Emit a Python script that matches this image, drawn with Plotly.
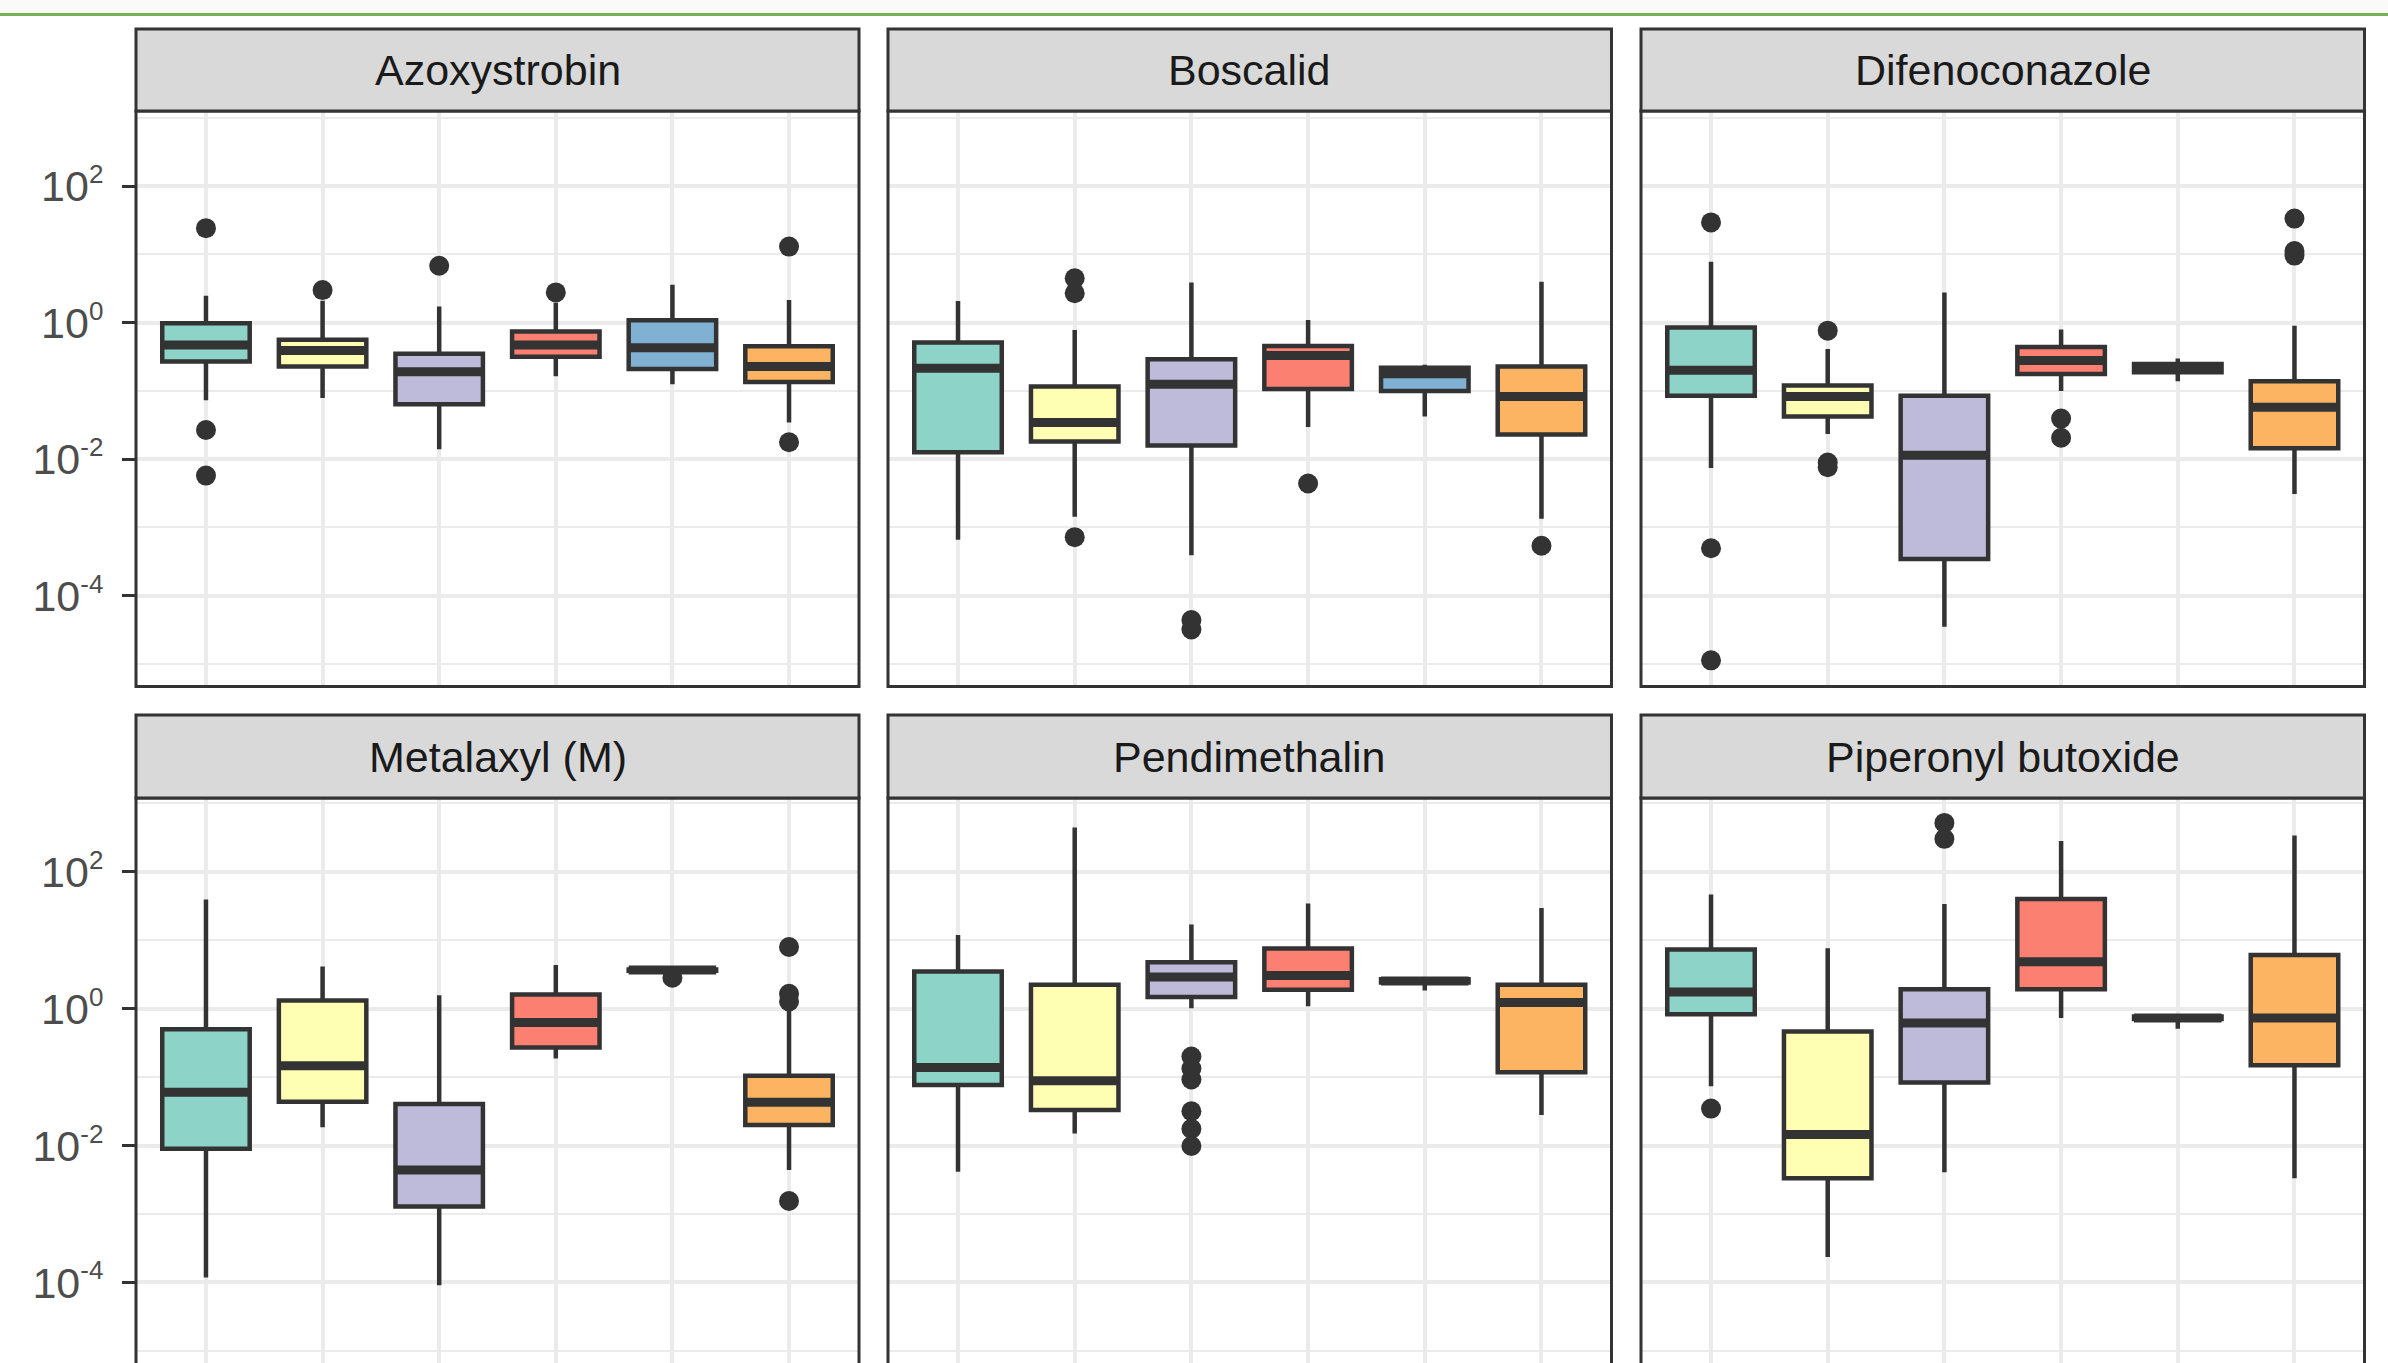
import plotly.graph_objects as go

# ---------------- data ----------------
COMPOUNDS = ["Azoxystrobin", "Boscalid", "Difenoconazole",
             "Metalaxyl (M)", "Pendimethalin", "Piperonyl butoxide"]
GROUP_COLORS = ["#8DD3C7", "#FFFFB3", "#BEBADA", "#FB8072", "#80B1D3", "#FDB462"]

Y_TICK_VALS = [1e-4, 1e-2, 1, 1e2]
Y_TICK_EXPONENTS = ["-4", "-2", "0", "2"]
Y_MINOR_VALS = [1e-5, 1e-3, 1e-1, 1e1, 1e3]

LOWER_WHISKER = [
    [0.073, 0.079, 0.014, 0.164, 0.125, 0.0345],
    [0.00066, 0.00143, 0.00039, 0.0295, 0.042, 0.00134],
    [0.00743, 0.0234, 3.5e-5, 0.1, 0.139, 0.0031],
    [0.000118, 0.0186, 9.1e-5, 0.188, 3.6, 0.0044],
    [0.00416, 0.015, 1.02, 1.09, 1.85, 0.028],
    [0.0738, 0.000235, 0.00407, 0.736, 0.51, 0.00333],
]
Q1 = [
    [0.27, 0.227, 0.064, 0.316, 0.21, 0.135],
    [0.0126, 0.0181, 0.0159, 0.107, 0.1, 0.0229],
    [0.085, 0.042, 0.000345, 0.177, 0.187, 0.0145],
    [0.00904, 0.0439, 0.00129, 0.272, 3.6, 0.02],
    [0.077, 0.0333, 1.48, 1.9, 2.43, 0.1186],
    [0.83, 0.00333, 0.0834, 1.93, 0.71, 0.149],
]
MEDIAN = [
    [0.47, 0.39, 0.19, 0.47, 0.43, 0.227],
    [0.215, 0.0345, 0.125, 0.33, 0.178, 0.083],
    [0.2, 0.083, 0.0114, 0.279, 0.215, 0.0578],
    [0.0605, 0.147, 0.0044, 0.63, 3.68, 0.0432],
    [0.139, 0.089, 2.92, 3.07, 2.55, 1.23],
    [1.76, 0.0145, 0.622, 4.85, 0.736, 0.736],
]
Q3 = [
    [0.98, 0.56, 0.35, 0.74, 1.08, 0.45],
    [0.51, 0.116, 0.29, 0.455, 0.218, 0.227],
    [0.845, 0.12, 0.085, 0.44, 0.247, 0.139],
    [0.5, 1.32, 0.0406, 1.61, 3.75, 0.105],
    [3.5, 2.25, 4.79, 7.6, 2.69, 2.25],
    [7.34, 0.465, 1.93, 40.3, 0.77, 6.1],
]
UPPER_WHISKER = [
    [2.47, 2.1, 1.72, 1.95, 3.59, 2.14],
    [2.08, 0.78, 3.87, 1.09, 0.242, 3.98],
    [7.8, 0.41, 2.77, 0.79, 0.297, 0.9],
    [39.6, 4.16, 1.58, 4.36, 3.75, 1.0],
    [12.0, 445.0, 17.0, 34.4, 2.8, 29.6],
    [46.9, 7.68, 34.0, 282.0, 0.79, 339.0],
]
OUTLIERS = [
    [[24.2, 0.0267, 0.00575], [3.0], [6.8], [2.77], [], [13.0, 0.0177]],
    [[], [4.47, 2.69, 0.00072], [4.4e-5, 3.2e-5], [0.0044], [], [0.00054]],
    [[29.4, 0.000495, 1.13e-5], [0.762, 0.0089, 0.0076], [], [0.0393, 0.0206], [], [33.4, 11.2, 9.6]],
    [[], [], [], [], [2.84], [8.0, 1.66, 1.28, 0.00155]],
    [[], [], [0.2, 0.134, 0.0927, 0.0318, 0.0176, 0.00986], [], [], []],
    [[0.0348], [], [520.0, 304.0], [], [], []],
]

# ---------------- layout geometry ----------------
W, H = 2388, 1363
FONT = "Liberation Sans, Arial, sans-serif"
DARK = "#333333"
GRID = "#EBEBEB"
BOX_WIDTH = 0.75

Y_TICK_TEXT = ["10<sup><span style='font-size:26px'>%s</span></sup>" % e
               for e in Y_TICK_EXPONENTS]

COL_PX = [(136, 859), (888, 1611.5), (1641, 2364.5)]
ROW_PX = [(111, 686.5), (798, 1373.5)]        # panel top / bottom (px from top)
STRIP_PX = [(29, 111), (715, 798)]
ROW_RANGE = [(-5.33, 3.10), (-5.33, 3.08)]     # log10 range of the full panel

fig = go.Figure()
layout = dict(
    width=W, height=H, margin=dict(l=0, r=0, t=0, b=0),
    paper_bgcolor="white", plot_bgcolor="white",
    showlegend=False, boxmode="overlay",
    font=dict(family=FONT, color="#4D4D4D", size=43),
)
shapes = []
annotations = []

# page decoration at the very top
shapes.append(dict(type="rect", xref="paper", yref="paper", x0=0, x1=1,
                   y0=1 - 13 / H, y1=1.01, fillcolor="#FAFAF8", line=dict(width=0),
                   layer="below"))
shapes.append(dict(type="line", xref="paper", yref="paper", x0=0, x1=1,
                   y0=1 - 14.5 / H, y1=1 - 14.5 / H, line=dict(color="#77B255", width=3)))

positions = list(range(1, len(GROUP_COLORS) + 1))

for i, name in enumerate(COMPOUNDS):
    r, c = divmod(i, 3)
    k = i + 1
    xa = "x" if k == 1 else f"x{k}"
    ya = "y" if k == 1 else f"y{k}"
    xl, xr = COL_PX[c]
    top, bot = ROW_PX[r]
    lo_r, hi_r = ROW_RANGE[r]
    vis_bot = min(bot, H)
    per_px = (hi_r - lo_r) / (bot - top)
    vis_lo = hi_r - (vis_bot - top) * per_px

    layout["xaxis" if k == 1 else f"xaxis{k}"] = dict(
        domain=[xl / W, xr / W], anchor=ya, range=[0.4, 6.6],
        tickmode="array", tickvals=positions, showticklabels=False, ticks="",
        showgrid=True, gridcolor=GRID, gridwidth=3.5, zeroline=False, showline=False,
        fixedrange=True,
    )
    layout["yaxis" if k == 1 else f"yaxis{k}"] = dict(
        domain=[1 - vis_bot / H, 1 - top / H], anchor=xa, type="log",
        range=[vis_lo, hi_r],
        tickmode="array", tickvals=Y_TICK_VALS, ticktext=Y_TICK_TEXT,
        showticklabels=(c == 0), ticks="outside" if c == 0 else "",
        ticklen=13, tickwidth=3, tickcolor=DARK, ticklabelstandoff=10,
        tickfont=dict(family=FONT, size=43, color="#4D4D4D"),
        showgrid=True, gridcolor=GRID, gridwidth=3.5, zeroline=False, showline=False,
        minor=dict(tickmode="array", tickvals=Y_MINOR_VALS, showgrid=True,
                   gridcolor=GRID, gridwidth=2, ticks=""),
        fixedrange=True,
    )

    # boxes
    for g, pos in enumerate(positions):
        fig.add_trace(go.Box(
            x=[pos], q1=[Q1[i][g]], median=[MEDIAN[i][g]], q3=[Q3[i][g]],
            lowerfence=[LOWER_WHISKER[i][g]], upperfence=[UPPER_WHISKER[i][g]],
            width=BOX_WIDTH, whiskerwidth=0, boxpoints=False,
            fillcolor=GROUP_COLORS[g], line=dict(color=DARK, width=4.5),
            xaxis=xa, yaxis=ya, hoverinfo="skip",
        ))
    # thick median bars
    mx, my = [], []
    for g, pos in enumerate(positions):
        mx += [pos - BOX_WIDTH / 2, pos + BOX_WIDTH / 2, None]
        my += [MEDIAN[i][g], MEDIAN[i][g], None]
    fig.add_trace(go.Scatter(x=mx, y=my, mode="lines",
                             line=dict(color=DARK, width=9),
                             xaxis=xa, yaxis=ya, hoverinfo="skip"))
    # outliers
    ox, oy = [], []
    for g, pos in enumerate(positions):
        for v in OUTLIERS[i][g]:
            ox.append(pos)
            oy.append(v)
    fig.add_trace(go.Scatter(x=ox, y=oy, mode="markers",
                             marker=dict(color=DARK, size=20, line=dict(width=0)),
                             xaxis=xa, yaxis=ya, hoverinfo="skip"))

    # panel border
    shapes.append(dict(type="rect", xref="paper", yref="paper",
                       x0=xl / W, x1=xr / W, y0=1 - bot / H, y1=1 - top / H,
                       line=dict(color=DARK, width=3), fillcolor="rgba(0,0,0,0)",
                       layer="above"))
    # strip
    st, sb = STRIP_PX[r]
    shapes.append(dict(type="rect", xref="paper", yref="paper",
                       x0=xl / W, x1=xr / W, y0=1 - sb / H, y1=1 - st / H,
                       line=dict(color=DARK, width=3), fillcolor="#D9D9D9",
                       layer="above"))
    annotations.append(dict(text=name, xref="paper", yref="paper",
                            x=(xl + xr) / 2 / W, y=1 - (st + sb) / 2 / H,
                            xanchor="center", yanchor="middle", showarrow=False,
                            font=dict(family=FONT, size=43, color="#1A1A1A")))

layout["shapes"] = shapes
layout["annotations"] = annotations
fig.update_layout(**layout)
fig.write_html("out.html", config={"displayModeBar": False},
               post_script="document.body.style.margin='0';document.body.style.overflow='hidden';")
